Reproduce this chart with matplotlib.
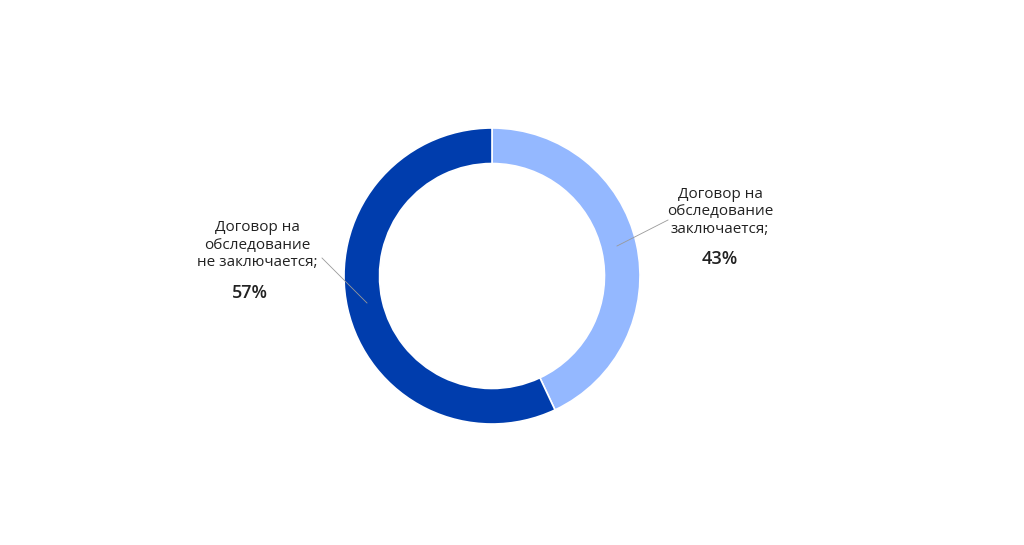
import matplotlib
matplotlib.use("Agg")
import matplotlib.pyplot as plt

labels = ["Договор на\nобследование\nзаключается;", "Договор на\nобследование\nне заключается;"]
values = [43, 57]
colors = ["#94B8FF", "#003DAD"]

W, H = 1024, 545
fig = plt.figure(figsize=(W/100, H/100), dpi=100)
cx, cy, R = 492, 276, 148
ax = fig.add_axes([(cx-R)/W, (H-cy-R)/H, 2*R/W, 2*R/H])
ax.pie(values, colors=colors, startangle=90, counterclock=False, radius=1,
       wedgeprops=dict(width=0.24, edgecolor="white", linewidth=1.2))
ax.set_xlim(-1, 1); ax.set_ylim(-1, 1); ax.set_aspect("equal")
ax.set_clip_on(False)

def d(px, py):
    return ((px-cx)/R, (cy-py)/R)

fam = ["Open Sans", "DejaVu Sans"]
# right label
x, y = d(720, 212)
ax.text(x, y, labels[0], ha="center", va="center", fontsize=11, family=fam, color="#222222", linespacing=1.25)
x, y = d(720, 259)
ax.text(x, y, f"{values[0]}%", ha="center", va="center", fontsize=13, family=fam, fontweight="semibold", color="#222222")
p1, p2 = d(617, 246), d(668, 220)
ax.plot([p1[0], p2[0]], [p1[1], p2[1]], color="#999999", lw=0.6, clip_on=False)
# left label
x, y = d(257, 245)
ax.text(x, y, labels[1], ha="center", va="center", fontsize=11, family=fam, color="#222222", linespacing=1.25)
x, y = d(250, 293)
ax.text(x, y, f"{values[1]}%", ha="center", va="center", fontsize=13, family=fam, fontweight="semibold", color="#222222")
p1, p2 = d(367, 303), d(322, 258)
ax.plot([p1[0], p2[0]], [p1[1], p2[1]], color="#999999", lw=0.6, clip_on=False)

fig.savefig("out.png", dpi=100, facecolor="white")
